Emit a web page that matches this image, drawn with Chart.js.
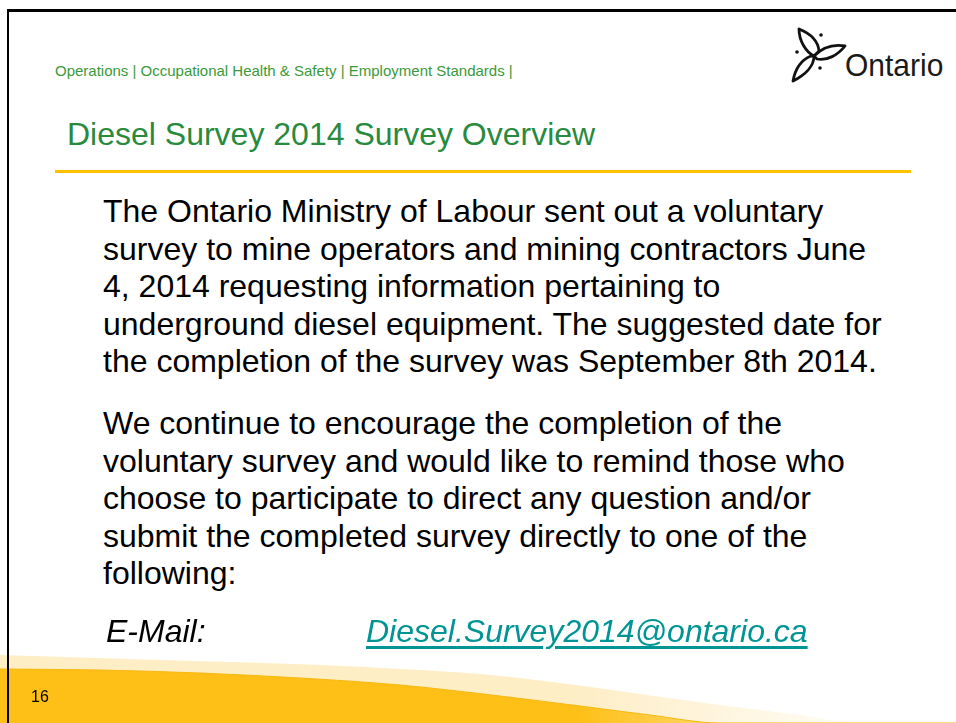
<!DOCTYPE html>
<html>
<head>
<meta charset="utf-8">
<script src="https://cdn.jsdelivr.net/npm/chart.js@4.4.1/dist/chart.umd.min.js"></script>
<style>
  html, body { margin: 0; padding: 0; background: #fff; }
  body { width: 956px; height: 723px; position: relative; overflow: hidden;
         font-family: "Liberation Sans", Arial, sans-serif; }
  .abs { position: absolute; white-space: nowrap; }
  #swoosh { position: absolute; left: 0; top: 640px; }
  .border-top { position: absolute; left: 7px; top: 9px; width: 949px; height: 3px; background: #000; z-index: 5; }
  .border-left { position: absolute; left: 7px; top: 9px; width: 2px; height: 714px; background: #000; z-index: 5; }
  .header { left: 55px; top: 63px; font-size: 15px; line-height: 15px; color: #3a9a3a; }
  .title { left: 67px; top: 118px; font-size: 32px; line-height: 32px; color: #288a3c; }
  .rule { position: absolute; left: 55px; top: 170px; width: 856px; height: 3px; background: #ffc000; }
  .body { left: 103px; font-size: 32px; line-height: 37.5px; color: #000; }
  .mail { top: 613px; font-size: 32px; line-height: 37.5px; font-style: italic; }
  .link { color: #009494; text-decoration: underline; text-decoration-thickness: 2.5px; text-underline-offset: 4px; }
  .logo-text { left: 845px; top: 51px; font-size: 30px; line-height: 30px; color: #1a1a1a; transform: scaleY(1.05); transform-origin: left bottom; }
  .pagenum { left: 31px; top: 689px; font-size: 16px; line-height: 16px; color: #000; z-index: 3; }
</style>
</head>
<body>
<canvas id="swoosh" width="956" height="83"></canvas>
<div class="border-top"></div>
<div class="border-left"></div>

<div class="abs header">Operations | Occupational Health &amp; Safety | Employment Standards |</div>

<svg class="abs" style="left:787px;top:25px" width="65" height="60" viewBox="0 0 65 60">
  <g fill="#fff" stroke="#111" stroke-width="2.8" stroke-linejoin="round">
    <path d="M27,31 C19,27 12,16 12,4 C22,8 31,15 32,26 Z"/>
    <path d="M27,31 C36,22 47,19 58,21 C51,30 40,36 30,34 Z"/>
    <path d="M27,31 C27,41 18,50 6,56 C8,45 14,35 24,31 Z"/>
  </g>
  <g fill="#111">
    <circle cx="34" cy="10" r="1.8"/>
    <circle cx="10" cy="27" r="1.8"/>
    <circle cx="33" cy="43" r="1.8"/>
  </g>
</svg>
<div class="abs logo-text">Ontario</div>

<div class="abs title">Diesel Survey 2014 Survey Overview</div>
<div class="rule"></div>

<div class="abs body" style="top:193px">
  The Ontario Ministry of Labour sent out a voluntary<br>
  survey to mine operators and mining contractors June<br>
  4, 2014 requesting information pertaining to<br>
  underground diesel equipment. The suggested date for<br>
  the completion of the survey was September 8th 2014.
</div>

<div class="abs body" style="top:405px">
  We continue to encourage the completion of the<br>
  voluntary survey and would like to remind those who<br>
  choose to participate to direct any question and/or<br>
  submit the completed survey directly to one of the<br>
  following:
</div>

<div class="abs mail" style="left:106px">E-Mail:</div>
<div class="abs mail link" style="left:366px">Diesel.Survey2014@ontario.ca</div>

<div class="abs pagenum">16</div>

<script>
// bottom swoosh, edges (x along slide width, y down the footer strip)
const orangeX    = [0,   100, 200, 300, 400, 500, 580, 650, 720, 956];
const orangeEdge = [669, 670, 673, 678, 685, 696, 706, 715, 723, 723];
const glowX      = [0,   160, 320, 400, 480, 560, 640, 720, 800, 860, 956];
const glowEdge   = [655, 660, 665, 669, 674, 683, 694, 705, 715, 723, 723];

function toPoints(xs, ys) {
    return xs.map((x, i) => ({ x: x, y: ys[i] }));
}

const ctx = document.getElementById('swoosh').getContext('2d');
new Chart(ctx, {
    type: 'line',
    data: {
        datasets: [{
            data: toPoints(orangeX, orangeEdge),
            fill: 'start',
            borderColor: '#f7b80f',
            borderWidth: 1,
            cubicInterpolationMode: 'monotone',
            backgroundColor: (c) => {
                const area = c.chart.chartArea;
                if (!area) return '#fec016';
                const g = c.chart.ctx.createLinearGradient(area.left, 0, area.right, 0);
                g.addColorStop(0, '#fec016');
                g.addColorStop(0.6, '#fec016');
                g.addColorStop(0.76, 'rgba(254,192,22,0.55)');
                return g;
            }
        }, {
            data: toPoints(glowX, glowEdge),
            fill: 'start',
            borderWidth: 0,
            borderColor: 'rgba(0,0,0,0)',
            cubicInterpolationMode: 'monotone',
            backgroundColor: (c) => {
                const area = c.chart.chartArea;
                if (!area) return 'rgba(253,205,90,0.3)';
                const g = c.chart.ctx.createLinearGradient(area.left, 0, area.right, 0);
                g.addColorStop(0, 'rgba(253,205,90,0.35)');
                g.addColorStop(0.6, 'rgba(253,205,90,0.35)');
                g.addColorStop(0.95, 'rgba(253,205,90,0)');
                return g;
            }
        }]
    },
    options: {
        responsive: false,
        animation: false,
        layout: { padding: 0 },
        elements: { point: { radius: 0 } },
        plugins: { legend: { display: false }, tooltip: { enabled: false } },
        scales: {
            x: { type: 'linear', display: false, min: 0, max: 956 },
            y: { display: false, min: 640, max: 723, reverse: true }
        }
    }
});
</script>
</body>
</html>
